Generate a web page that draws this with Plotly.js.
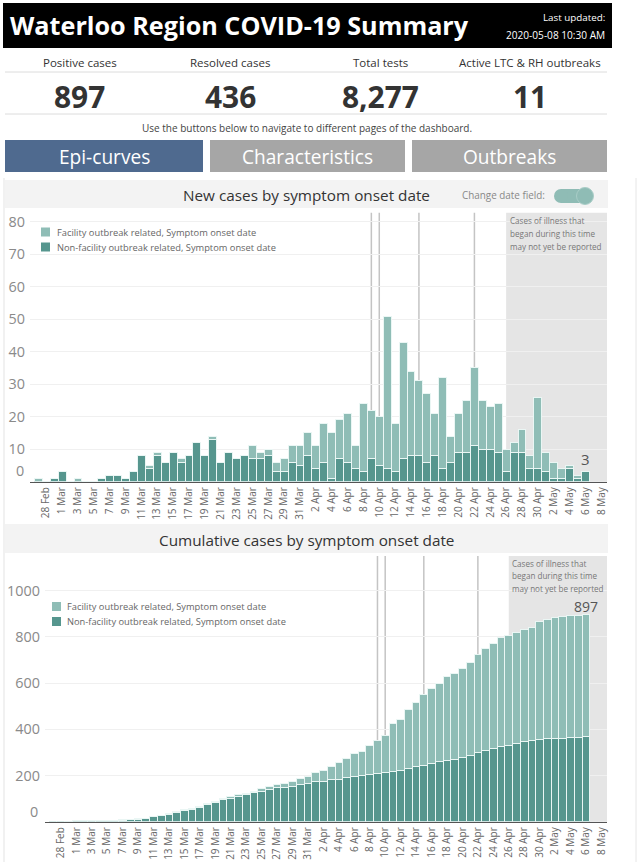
<!DOCTYPE html>
<html><head><meta charset="utf-8">
<script src="https://cdn.plot.ly/plotly-3.0.1.min.js"></script>
<style>html,body{margin:0;padding:0;background:#fff;overflow:hidden}#chart{width:640px;height:862px}</style>
</head><body><div id="chart"></div>
<script>
// ---------------- DATA ----------------
const dates = [
'2020-02-27','2020-02-28','2020-02-29',
'2020-03-01','2020-03-02','2020-03-03','2020-03-04','2020-03-05','2020-03-06','2020-03-07','2020-03-08','2020-03-09','2020-03-10',
'2020-03-11','2020-03-12','2020-03-13','2020-03-14','2020-03-15','2020-03-16','2020-03-17','2020-03-18','2020-03-19','2020-03-20',
'2020-03-21','2020-03-22','2020-03-23','2020-03-24','2020-03-25','2020-03-26','2020-03-27','2020-03-28','2020-03-29','2020-03-30','2020-03-31',
'2020-04-01','2020-04-02','2020-04-03','2020-04-04','2020-04-05','2020-04-06','2020-04-07','2020-04-08','2020-04-09','2020-04-10',
'2020-04-11','2020-04-12','2020-04-13','2020-04-14','2020-04-15','2020-04-16','2020-04-17','2020-04-18','2020-04-19','2020-04-20',
'2020-04-21','2020-04-22','2020-04-23','2020-04-24','2020-04-25','2020-04-26','2020-04-27','2020-04-28','2020-04-29','2020-04-30',
'2020-05-01','2020-05-02','2020-05-03','2020-05-04','2020-05-05','2020-05-06'];

const nonFacility = [0,0,1,
 3,0,0,0,0,1,2,2,1,3,
 8,4,8,6,9,6,8,12,8,13,
 6,9,7,8,7,7,8,3,3,6,5,
 8,4,6,1,7,6,4,3,7,5,
 4,3,7,8,8,6,8,4,6,9,
 9,11,10,10,9,3,9,9,4,4,
 3,1,1,4,1,3];

const facility = [1,0,0,
 0,0,1,0,0,0,0,0,0,0,
 0,1,1,0,0,1,0,0,0,1,
 0,0,0,0,4,2,2,3,4,5,6,
 7,7,12,14,12,15,7,21,15,15,
 47,15,36,26,23,21,13,28,8,12,
 16,24,15,13,15,7,3,7,4,22,
 6,5,3,1,1,0];

const tickDates = ['2020-02-28','2020-03-01','2020-03-03','2020-03-05','2020-03-07','2020-03-09','2020-03-11','2020-03-13','2020-03-15',
'2020-03-17','2020-03-19','2020-03-21','2020-03-23','2020-03-25','2020-03-27','2020-03-29','2020-03-31','2020-04-02','2020-04-04',
'2020-04-06','2020-04-08','2020-04-10','2020-04-12','2020-04-14','2020-04-16','2020-04-18','2020-04-20','2020-04-22','2020-04-24',
'2020-04-26','2020-04-28','2020-04-30','2020-05-02','2020-05-04','2020-05-06','2020-05-08'];
const tickLabels = ['28 Feb','1 Mar','3 Mar','5 Mar','7 Mar','9 Mar','11 Mar','13 Mar','15 Mar',
'17 Mar','19 Mar','21 Mar','23 Mar','25 Mar','27 Mar','29 Mar','31 Mar','2 Apr','4 Apr',
'6 Apr','8 Apr','10 Apr','12 Apr','14 Apr','16 Apr','18 Apr','20 Apr','22 Apr','24 Apr',
'26 Apr','28 Apr','30 Apr','2 May','4 May','6 May','8 May'];

const yTicksNew = [10,20,30,40,50,60,70,80];
const yTicksCum = [200,400,600,800,1000];
const eventDates = ['2020-04-09','2020-04-10','2020-04-15','2020-04-22'];
const lagStart = '2020-04-26';
const seriesNames = ['Facility outbreak related, Symptom onset date','Non-facility outbreak related, Symptom onset date'];
const kpiLabels = ['Positive cases','Resolved cases','Total tests','Active LTC & RH outbreaks'];
const kpiValues = ['897','436','8,277','11'];
const navButtons = ['Epi-curves','Characteristics','Outbreaks'];
const lagNote = ['Cases of illness that','began during this time','may not yet be reported'];

// cumulative series (running sums of the daily counts)
const cumNon = [], cumFac = [];
nonFacility.reduce((s,v,i)=>{cumNon[i]=s+v;return s+v;},0);
facility.reduce((s,v,i)=>{cumFac[i]=s+v;return s+v;},0);
const lastIdx = dates.length-1;
const totalLast = cumNon[lastIdx]+cumFac[lastIdx];

// ---------------- STYLE / LAYOUT ----------------
const W=640,H=862;
const X=p=>p/W, Y=p=>1-p/H;
const FONT='Open Sans';
const DARK='#56968e', LIGHT='#8fbdb6', EDGE='#eaf6f4';
const cv=document.createElement('canvas').getContext('2d');
function fit(t,wt,target,fam){cv.font=`${wt} 100px "${fam||FONT}"`;return Math.round(1000*target/cv.measureText(t).width)/10;}

const xRange=['2020-02-25 22:48','2020-05-08 17:17'];

const traces=[
 {type:'bar',x:dates,y:nonFacility,name:seriesNames[1],marker:{color:DARK,line:{color:EDGE,width:1}},xaxis:'x',yaxis:'y'},
 {type:'bar',x:dates,y:facility,name:seriesNames[0],marker:{color:LIGHT,line:{color:EDGE,width:1}},xaxis:'x',yaxis:'y'},
 {type:'bar',x:dates,y:cumNon,name:seriesNames[1],marker:{color:DARK,line:{color:EDGE,width:1}},xaxis:'x2',yaxis:'y2'},
 {type:'bar',x:dates,y:cumFac,name:seriesNames[0],marker:{color:LIGHT,line:{color:EDGE,width:1}},xaxis:'x2',yaxis:'y2'}
];

const xtfs=10;
const ytfs=fit('1000',400,33);
const xaxisBase={type:'date',range:xRange,tickvals:tickDates,ticktext:tickLabels,tickangle:-90,
 tickfont:{family:FONT,size:xtfs,color:'#666'},showline:true,linecolor:'#555',linewidth:1.5,showgrid:false,zeroline:false,ticks:'',fixedrange:true};
const yaxisBase={tickfont:{family:FONT,size:ytfs,color:'#8a8a8a'},gridcolor:'#f0f0f0',gridwidth:1,zeroline:false,showline:false,ticks:'',ticklabelstandoff:4,fixedrange:true};

const shapes=[];
function rect(x0,y0,x1,y1,fill,o){shapes.push(Object.assign({type:'rect',xref:'paper',yref:'paper',x0:X(x0),x1:X(x1),y0:Y(y1),y1:Y(y0),fillcolor:fill,line:{width:0},layer:'below'},o||{}));}
function circ(cx,cy,r,fill,o){shapes.push(Object.assign({type:'circle',xref:'paper',yref:'paper',x0:X(cx-r),x1:X(cx+r),y0:Y(cy+r),y1:Y(cy-r),fillcolor:fill,line:{width:0},layer:'above'},o||{}));}
function hline(x0,x1,y,c,w){shapes.push({type:'line',xref:'paper',yref:'paper',x0:X(x0),x1:X(x1),y0:Y(y),y1:Y(y),line:{color:c,width:w||1},layer:'below'});}
function vline(x,y0,y1,c,w){shapes.push({type:'line',xref:'paper',yref:'paper',x0:X(x),x1:X(x),y0:Y(y1),y1:Y(y0),line:{color:c,width:w||1},layer:'below'});}

// header
rect(3,3,612,48,'#000000');
// KPI rules
hline(5,607,72,'#dcdcdc',1); hline(5,607,114,'#dcdcdc',1);
// buttons
const btnX=[[5,203],[210,405],[412,607]];
const btnFill=['#4f6a8f','#a6a6a6','#a6a6a6'];
btnX.forEach((b,i)=>rect(b[0],140,b[1],172,btnFill[i]));
// section bands
rect(5,180,608,208,'#f3f3f3');
rect(5,524,608,553,'#f3f3f3');
// borders
vline(4,178,862,'#e3e3e3',1); vline(636,178,862,'#e6e6e6',1);
// toggle
rect(561,189,586,203,'#8fbcb5',{layer:'above'});
circ(561,196,7,'#8fbcb5'); circ(585,196,8.5,'#8fbcb5',{line:{color:'#a9cdc7',width:1}});

// reporting-lag shading and event lines for both charts
[['x','y'],['x2','y2']].forEach(([xa,ya])=>{
  shapes.push({type:'rect',xref:xa,yref:ya+' domain',x0:lagStart,x1:xRange[1],y0:0,y1:1,fillcolor:'#e5e5e5',line:{width:0},layer:'below'});
  eventDates.forEach(d=>shapes.push({type:'line',xref:xa,yref:ya+' domain',x0:d,x1:d,y0:0,y1:1,line:{color:'#c4c4c4',width:1.5},layer:'below'}));
});

// legends (custom, drawn as swatches + text)
const legFs=fit(seriesNames[0],400,199);
function legend(sx,sy,size){
  [LIGHT,DARK].forEach((c,i)=>{
    const cy=sy+i*15;
    rect(sx,cy-size/2,sx+size,cy+size/2,c,{layer:'above'});
  });
}
legend(41,232,9);
legend(52,606.5,9);

const ann=[];
function A(text,x,y,size,color,o){ann.push(Object.assign({text,xref:'paper',yref:'paper',x:X(x),y:Y(y),xanchor:'center',yanchor:'middle',showarrow:false,
  font:{family:FONT,size,color,weight:(o&&o.weight)||400}},o||{}));}

const title='Waterloo Region COVID-19 Summary';
A(title,8,25,fit(title,700,458),'#ffffff',{xanchor:'left',weight:700});
A('Last updated:',607,18,fit('Last updated:',400,62),'#ffffff',{xanchor:'right'});
A('2020-05-08 10:30 AM',607,35,fit('2020-05-08 10:30 AM',400,99),'#ffffff',{xanchor:'right'});

const kpiX=[79.5,230,380,530];
const kLabFs=fit(kpiLabels[0],400,74);
const kValFs=fit(kpiValues[2],700,77);
kpiLabels.forEach((t,i)=>A(t,kpiX[i],62,kLabFs,'#333'));
kpiValues.forEach((t,i)=>A(t,kpiX[i],96,kValFs,'#333',{weight:700}));
const navNote='Use the buttons below to navigate to different pages of the dashboard.';
A(navNote,307,128,fit(navNote,400,329),'#444');
const btnFs=fit(navButtons[1],400,131);
navButtons.forEach((t,i)=>A(t,(btnX[i][0]+btnX[i][1])/2,157,btnFs,'#ffffff'));

const t1='New cases by symptom onset date', t2='Cumulative cases by symptom onset date';
const secFs=fit(t2,400,295);
A(t1,306.5,195,secFs,'#333');
A(t2,306.5,540,secFs,'#333');
A('Change date field:',547,195,fit('Change date field:',400,83),'#888',{xanchor:'right'});

// legend texts
[[55,232],[65,606.5]].forEach(([tx,ty])=>{
  seriesNames.forEach((s,i)=>A(s,tx,ty+i*15,legFs,'#666',{xanchor:'left'}));
});

// reporting-lag notes
const noteFs=fit(lagNote[2],400,92);
lagNote.forEach((s,i)=>{A(s,508,221+i*12.7,noteFs,'#777',{xanchor:'left'});A(s,510,563+i*12.7,noteFs,'#777',{xanchor:'left'});});

// value labels
ann.push({text:String(nonFacility[lastIdx]+facility[lastIdx]),xref:'x',yref:'y',x:dates[lastIdx],y:nonFacility[lastIdx]+facility[lastIdx],
  yanchor:'bottom',yshift:1,showarrow:false,font:{family:FONT,size:15,color:'#555'}});
ann.push({text:String(totalLast),xref:'x2',yref:'paper',x:dates[lastIdx],y:Y(606),xanchor:'center',
  yanchor:'middle',showarrow:false,font:{family:FONT,size:14,color:'#555'}});

// zero labels (drawn slightly above the baseline as in the dashboard)
ann.push({text:'0',xref:'paper',yref:'y',x:X(26),y:0,xanchor:'right',yanchor:'middle',yshift:11,showarrow:false,font:{family:FONT,size:ytfs,color:'#8a8a8a'}});
ann.push({text:'0',xref:'paper',yref:'y2',x:X(39.5),y:0,xanchor:'right',yanchor:'middle',yshift:10,showarrow:false,font:{family:FONT,size:ytfs,color:'#8a8a8a'}});

const layout={width:W,height:H,margin:{l:0,r:0,t:0,b:0},paper_bgcolor:'#ffffff',plot_bgcolor:'rgba(0,0,0,0)',
 barmode:'stack',bargap:0,showlegend:false,hovermode:false,font:{family:FONT},
 xaxis:Object.assign({},xaxisBase,{domain:[X(30),X(607)],anchor:'y'}),
 yaxis:Object.assign({},yaxisBase,{domain:[Y(481.7),Y(212.7)],range:[0,82.8],tickvals:yTicksNew,anchor:'x'}),
 xaxis2:Object.assign({},xaxisBase,{domain:[X(45),X(607)],anchor:'y2'}),
 yaxis2:Object.assign({},yaxisBase,{domain:[Y(821.7),Y(556)],range:[0,1150],tickvals:yTicksCum,anchor:'x2'}),
 shapes,annotations:ann};

Plotly.newPlot('chart',traces,layout,{displayModeBar:false,staticPlot:true});
</script></body></html>
